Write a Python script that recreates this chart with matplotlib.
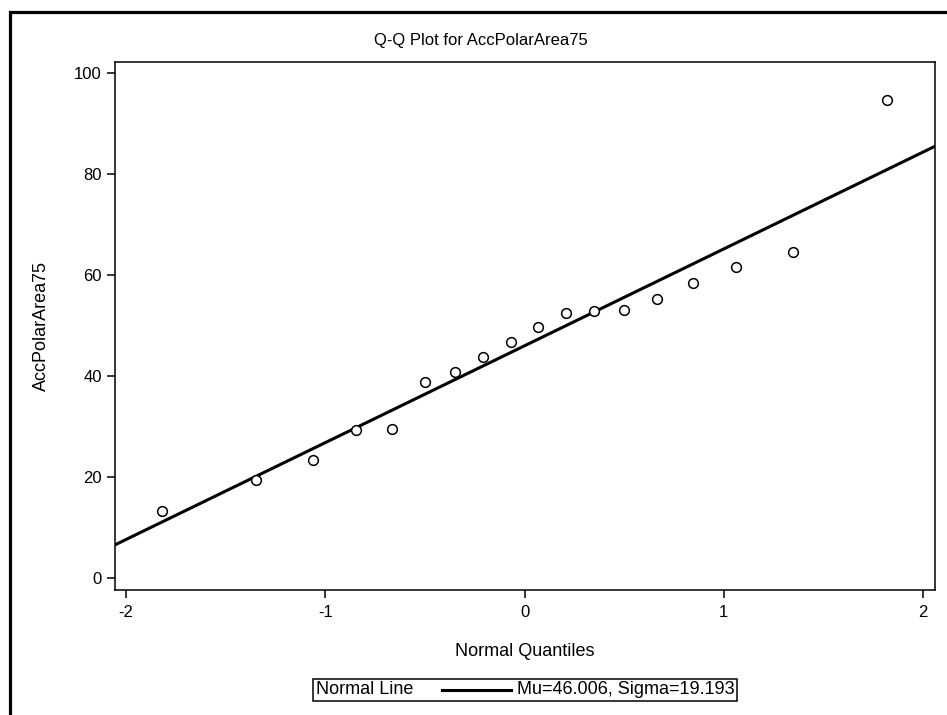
import matplotlib
matplotlib.use('Agg')
import matplotlib.pyplot as plt
from matplotlib.patches import Rectangle
from matplotlib.lines import Line2D
from matplotlib.offsetbox import TextArea, DrawingArea, HPacker, AnchoredOffsetbox

plt.rcParams['font.family'] = ['Liberation Sans', 'DejaVu Sans']
plt.rcParams['axes.unicode_minus'] = False

# normal quantiles and sorted observations
quantiles = [-1.821, -1.347, -1.063, -0.846, -0.664, -0.501, -0.350, -0.207, -0.069,
             0.069, 0.207, 0.350, 0.501, 0.664, 0.846, 1.063, 1.347, 1.821]
area75 = [13.2, 19.5, 23.3, 29.3, 29.5, 38.9, 40.9, 43.8, 46.8,
          49.8, 52.5, 52.9, 53.1, 55.2, 58.4, 61.7, 64.5, 94.7]
mu = 46.006
sigma = 19.193

fig = plt.figure(figsize=(9.47, 7.15), dpi=100)
ax = fig.add_axes([115 / 947, 125 / 715, 820 / 947, 528 / 715])

ax.plot(quantiles, area75, 'o', mfc='white', mec='black', ms=7, mew=1.1, zorder=3)
ax.axline((0, mu), slope=sigma, color='black', lw=2.2, zorder=2)

ax.set_xlim(-2.055, 2.06)
ax.set_ylim(-2.38, 102.24)
ax.set_xticks([-2, -1, 0, 1, 2])
ax.set_yticks([0, 20, 40, 60, 80, 100])
ax.tick_params(direction='out', length=6, width=1.1, labelsize=12, colors='black')
ax.tick_params(axis='x', pad=5)
for s in ax.spines.values():
    s.set_linewidth(1.1)

fig.text(481 / 947, 1 - 40 / 715, 'Q-Q Plot for AccPolarArea75', fontsize=12,
         ha='center', va='center')
ax.set_xlabel('Normal Quantiles', fontsize=13, labelpad=16)
ax.set_ylabel('AccPolarArea75', fontsize=13, labelpad=17)

# legend box below the axes
px = 72 / 100
spacer = DrawingArea(17 * px, 10, 0, 0)
sample = DrawingArea(69 * px, 10, 0, 0)
sample.add_artist(Line2D([0, 69 * px], [5, 5], color='black', lw=2.2))
row = HPacker(children=[TextArea('Normal Line', textprops=dict(fontsize=13)),
                        spacer, sample,
                        TextArea('Mu=46.006, Sigma=19.193', textprops=dict(fontsize=13))],
              align='center', pad=0, sep=6 * px)
box = AnchoredOffsetbox(loc='center', child=row, pad=0.2, borderpad=0,
                        frameon=True, bbox_to_anchor=(0.5, -0.189),
                        bbox_transform=ax.transAxes)
box.patch.set_edgecolor('black')
box.patch.set_linewidth(1.1)
box.patch.set_boxstyle('square', pad=0)
ax.add_artist(box)

# outer frame
fig.add_artist(Rectangle((9.5 / 947, -0.05), 1.0, 1 - 11.5 / 715 + 0.05,
                         transform=fig.transFigure, fill=False,
                         edgecolor='black', lw=2.3, clip_on=False))

fig.savefig('out.png', dpi=100)
